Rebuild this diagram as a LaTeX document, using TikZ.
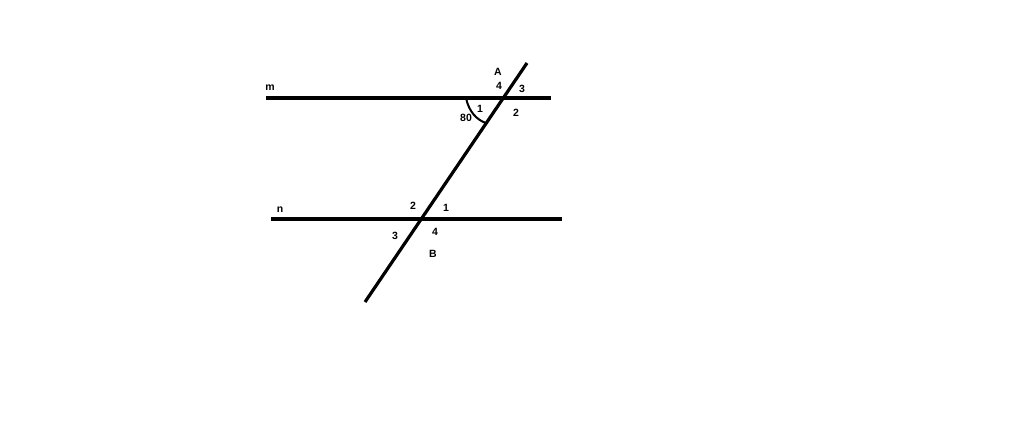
\documentclass[tikz,border=0pt]{standalone}
\usepackage{fontspec}
\setmainfont{Liberation Sans}
\usepackage{tikz}
\usetikzlibrary{positioning}
\tikzset{
Line/.style={
	draw=black,
	line width=3.2pt
},
Arc/.style={
	draw=black,
	line width=2pt
},
Label/.style={
	font=\fontsize{10.5}{12}\selectfont\bfseries,
	inner sep=0pt
}
}

\begin{document}
\begin{tikzpicture}[x=1pt, y=-1pt]
	\useasboundingbox (0,0) rectangle (1024,421);
	\coordinate (m1) at (266,98);
	\coordinate (m2) at (551,98);
	\coordinate (n1) at (271,219);
	\coordinate (n2) at (562,219);
	\coordinate (t1) at (527,63);
	\coordinate (t2) at (365,302);
	\coordinate (a1) at (466,98);
	\coordinate (a2) at (486,123);

	\draw[Line] (m1) -- (m2);
	\draw[Line] (n1) -- (n2);
	\draw[Line] (t1) -- (t2);
	\draw[Arc] (a1) .. controls (469,112) and (477,120) .. (a2);

	\node[Label] (m) at (270,88) {m};
	\node[Label] (n) at (280,210) {n};
	\node[Label] (A) at (498,72) {A};
	\node[Label] (A4) at (499,86) {4};
	\node[Label] (A3) at (522,89) {3};
	\node[Label] (A1) at (480,109) {1};
	\node[Label] (A80) at (466,118) {80};
	\node[Label] (A2) at (516,113) {2};
	\node[Label] (B2) at (413,206) {2};
	\node[Label] (B1) at (446,208) {1};
	\node[Label] (B3) at (395,236) {3};
	\node[Label] (B4) at (435,232) {4};
	\node[Label] (B) at (433,254) {B};
\end{tikzpicture}
\end{document}
